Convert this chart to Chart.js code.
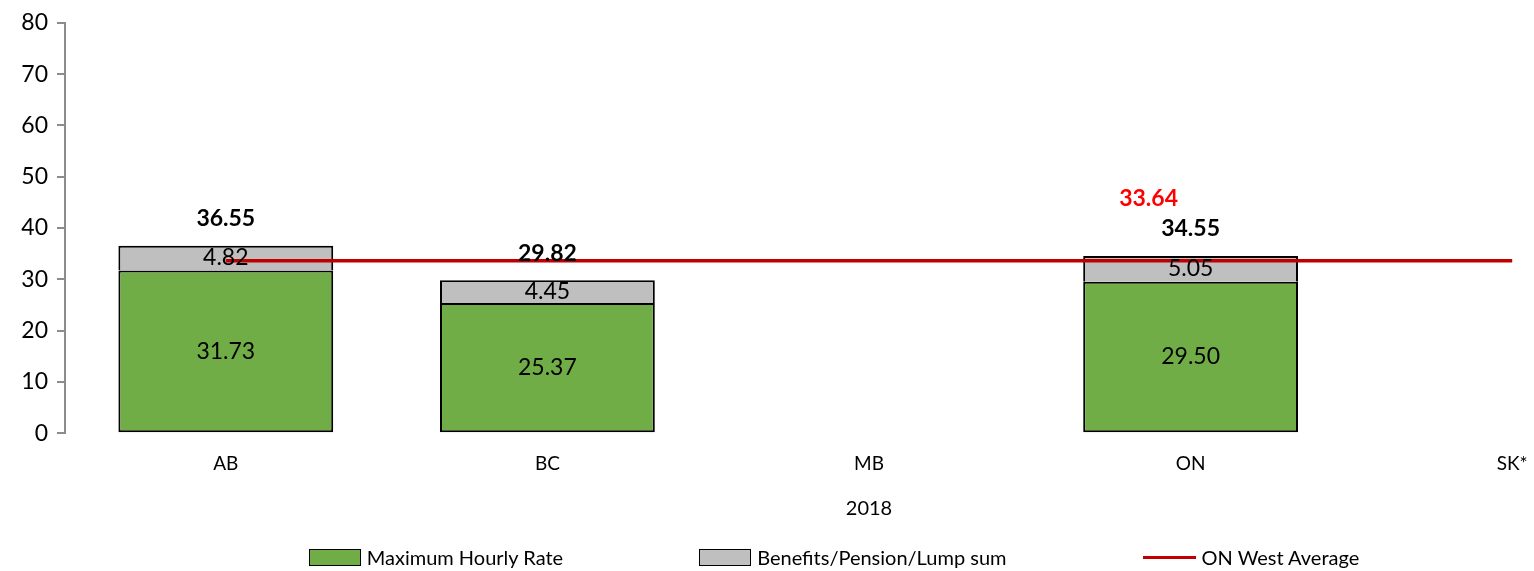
<!DOCTYPE html>
<html>
<head>
<meta charset="utf-8">
<script src="https://cdn.jsdelivr.net/npm/chart.js@4"></script>
<style>
  body { margin: 0; overflow: hidden; background: #fff; font-family: Lato, sans-serif; }
  #wrap { position: relative; width: 1690px; height: 571px; }
  #legend { position: absolute; left: 0; width: 1668px; top: 545px; display: flex; justify-content: center; gap: 136px; font-size: 20px; color: #000; }
  .item { display: flex; align-items: center; gap: 6px; }
  .box { width: 50px; height: 15px; border: 1px solid #000; }
  .line { width: 53px; height: 3px; }
</style>
</head>
<body>
<div id="wrap">
  <canvas id="chart" width="1690" height="571"></canvas>
  <div id="legend"></div>
</div>
<script>
const categories = ["AB", "BC", "MB", "ON", "SK*"];
const hourlyRate = [31.73, 25.37, null, 29.50, null];
const benefits = [4.82, 4.45, null, 5.05, null];
const totals = [36.55, 29.82, null, 34.55, null];
const westAverage = [33.64, 33.64, 33.64, 33.64, 33.64];
const xTitle = "2018";

const ctx = document.querySelector("#chart");

// draws the numbers on the bars and the average label
const labelPlugin = {
  id: "labels",
  afterDatasetsDraw(chart) {
    const c = chart.ctx;
    c.save();
    c.textAlign = "center";
    c.textBaseline = "middle";
    [0, 1].forEach((i) => {
      const meta = chart.getDatasetMeta(i);
      meta.data.forEach((bar, j) => {
        const v = chart.data.datasets[i].data[j];
        if (v == null) return;
        c.font = "23px Lato";
        c.fillStyle = "#000";
        c.fillText(v.toFixed(2), bar.x, (bar.y + bar.base) / 2);
      });
    });
    const top = chart.getDatasetMeta(1);
    top.data.forEach((bar, j) => {
      if (totals[j] == null) return;
      c.font = "bold 23px Lato";
      c.fillStyle = "#000";
      c.fillText(totals[j].toFixed(2), bar.x, bar.y - 27);
    });
    const line = chart.getDatasetMeta(2).data[3];
    c.font = "bold 23px Lato";
    c.fillStyle = "#FF0000";
    c.fillText(westAverage[3].toFixed(2), line.x - 42, line.y - 62);
    c.restore();
  },
};

const chart = new Chart(ctx, {
  type: "bar",
  data: {
    labels: categories,
    datasets: [
      {
        label: "Maximum Hourly Rate",
        data: hourlyRate,
        backgroundColor: "#70AD47",
        borderColor: "#000",
        borderWidth: 2,
        borderSkipped: false,
        barPercentage: 0.668,
        categoryPercentage: 1,
        order: 1,
      },
      {
        label: "Benefits/Pension/Lump sum",
        data: benefits,
        backgroundColor: "#BFBFBF",
        borderColor: "#000",
        borderWidth: { top: 2, left: 2, right: 2, bottom: 0 },
        borderSkipped: false,
        barPercentage: 0.668,
        categoryPercentage: 1,
        order: 1,
      },
      {
        type: "line",
        label: "ON West Average",
        data: westAverage,
        borderColor: "#C00000",
        backgroundColor: "#C00000",
        borderWidth: 3.5,
        pointRadius: 0,
        order: 0,
      },
    ],
  },
  options: {
    responsive: false,
    animation: false,
    layout: { padding: { top: 19, left: 0, right: 17, bottom: 50 } },
    plugins: {
      legend: { display: false },
      tooltip: { enabled: false },
    },
    scales: {
      x: {
        stacked: true,
        grid: { display: false, drawTicks: false },
        border: { display: false },
        ticks: { color: "#000", font: { family: "Lato", size: 19 }, padding: 19 },
        title: {
          display: true,
          text: xTitle,
          color: "#000",
          font: { family: "Lato", size: 20 },
          padding: { top: 3, bottom: 0 },
        },
      },
      y: {
        stacked: true,
        min: 0,
        max: 80,
        ticks: { stepSize: 10, color: "#000", font: { family: "Lato", size: 23 }, padding: 9 },
        grid: { drawOnChartArea: false, drawTicks: true, tickLength: 8, color: "#8C8C8C", lineWidth: 2 },
        border: { color: "#8C8C8C", width: 2 },
        afterFit: (scale) => { scale.width = 65; },
      },
    },
  },
  plugins: [labelPlugin],
});

function buildLegend() {
  const legend = document.querySelector("#legend");
  chart.data.datasets.forEach((ds) => {
    const item = document.createElement("div");
    item.classList.add("item");
    const mark = document.createElement("span");
    if (ds.type === "line") {
      mark.classList.add("line");
      mark.style.background = ds.borderColor;
    } else {
      mark.classList.add("box");
      mark.style.background = ds.backgroundColor;
    }
    const text = document.createElement("span");
    text.innerHTML = ds.label;
    item.appendChild(mark);
    item.appendChild(text);
    legend.appendChild(item);
  });
}
buildLegend();
</script>
</body>
</html>
